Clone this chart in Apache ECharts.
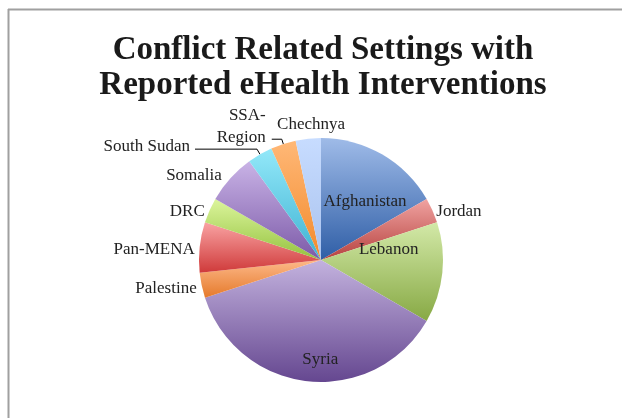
<!DOCTYPE html>
<html>
<head>
<meta charset="utf-8">
<script src="https://cdn.jsdelivr.net/npm/echarts@6/dist/echarts.min.js"></script>
<style>html,body{margin:0;padding:0;background:#fff}#c{width:622px;height:418px}</style>
</head>
<body>
<div id="c"></div>
<script>
const categories = ['Afghanistan','Jordan','Lebanon','Syria','Palestine','Pan-MENA','DRC','Somalia','South Sudan','SSA-\nRegion','Chechnya'];
const values = [5,1,4,11,1,2,1,2,1,1,1];
const lightColors = ['#9fbbe8','#f0a3a1','#d3e9a8','#c3b2de','#fdb98a','#f9a3a3','#dcf59c','#c9b3e6','#93e8f9','#ffb877','#c7dcff'];
const darkColors  = ['#2f5ea6','#b6423f','#87a944','#654790','#e57a2b','#cf3a3a','#94c23f','#7c5aa8','#3eb2d2','#f28a2c','#a9c2ee'];

const labelTweaks = {
  'Afghanistan': {position:'inside', offset:[12,-3]},
  'Lebanon': {position:'inside', offset:[4,-17]},
  'Syria': {position:'inside', offset:[6,36]},
  'Jordan': {offset:[-3,2]},
  'Palestine': {offset:[2,3]},
  'Pan-MENA': {offset:[2,2]},
  'DRC': {offset:[2,2]},
  'Somalia': {offset:[-2,-1]},
  'South Sudan': {offset:[0,-3]},
  'Chechnya': {position:'outside', offset:[42,-12]},
  'SSA-\nRegion': {position:'outside', align:'center', lineHeight:22, offset:[-1,-13]}
};

const chart = echarts.init(document.getElementById('c'));
const data = categories.map((n,i)=>{
  const d = {
    name: n, value: values[i],
    itemStyle: { color: new echarts.graphic.LinearGradient(0,0,0,1,[{offset:0,color:lightColors[i]},{offset:1,color:darkColors[i]}]) },
    label: Object.assign({position:'outside'}, labelTweaks[n] || {}),
    labelLine: {show:false}
  };
  if (n==='South Sudan') { d.labelLine = {show:true, length:6, length2:62, lineStyle:{color:'#000',width:1}}; }
  if (n==='SSA-\nRegion') { d.labelLine = {show:true, length:5, length2:10, lineStyle:{color:'#000',width:1}}; }
  return d;
});

chart.setOption({
  animation:false,
  title:{
    text:'Conflict Related Settings with\nReported eHealth Interventions',
    left:318, top:28, textAlign:'center',
    textStyle:{fontFamily:'Liberation Serif',fontWeight:'bold',fontSize:33,lineHeight:35,color:'#1a1a1a'}
  },
  graphic:[
    {type:'line',shape:{x1:8,y1:9.5,x2:622,y2:9.5},style:{stroke:'#a0a0a0',lineWidth:2},silent:true},
    {type:'line',shape:{x1:8.5,y1:9,x2:8.5,y2:418},style:{stroke:'#a0a0a0',lineWidth:2},silent:true}
  ],
  series:[{
    type:'pie',
    center:[321,260],
    radius:[0,122],
    startAngle:90,
    clockwise:true,
    avoidLabelOverlap:false,
    data:data,
    label:{fontFamily:'Liberation Serif',fontSize:17,color:'#222',lineHeight:20},
    labelLine:{length:2,length2:0}
  }]
});
</script>
</body>
</html>
